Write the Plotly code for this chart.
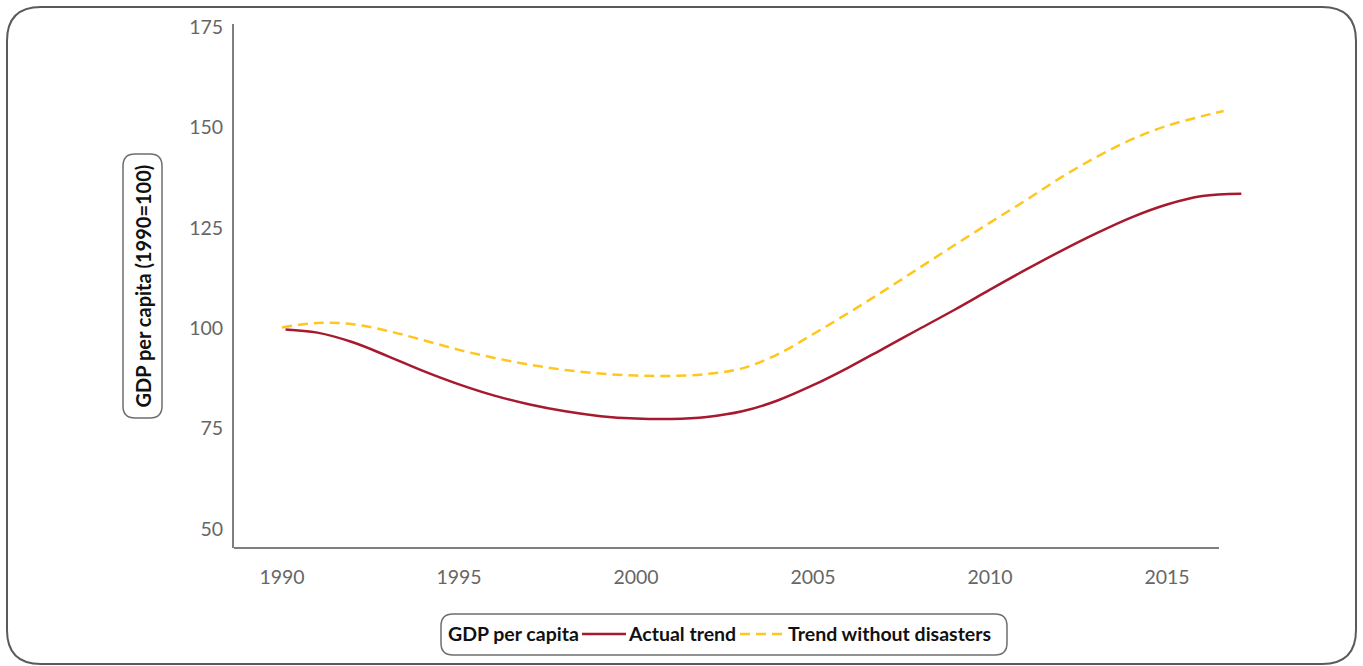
import plotly.graph_objects as go

# ---- data ----
actual_years = [1990.1, 1991, 1992, 1993, 1994, 1995, 1996, 1997, 1998, 1999, 2000,
                2001, 2002, 2003, 2004, 2005, 2006, 2007, 2008, 2009, 2010,
                2011, 2012, 2013, 2014, 2015, 2016, 2017.1]
actual_values = [99.7, 98.9, 96.5, 93.0, 89.3, 86.0, 83.2, 81.0, 79.3, 78.1, 77.5,
                 77.4, 77.9, 79.3, 82.0, 85.8, 90.2, 95.0, 99.8, 104.6, 109.6,
                 114.5, 119.2, 123.6, 127.6, 130.8, 132.9, 133.5]
nodis_years = [1990, 1991, 1992, 1993, 1994, 1995, 1996, 1997, 1998, 1999, 2000,
               2001, 2002, 2003, 2004, 2005, 2006, 2007, 2008, 2009, 2010,
               2011, 2012, 2013, 2014, 2015, 2016, 2016.6]
nodis_values = [100.2, 101.3, 101.0, 99.3, 97.0, 94.6, 92.6, 90.9, 89.6, 88.7, 88.2,
                88.1, 88.6, 90.0, 93.5, 98.5, 103.8, 109.3, 115.0, 120.7, 126.3,
                131.8, 137.5, 142.6, 147.0, 150.4, 152.8, 154.1]
x_ticks = [1990, 1995, 2000, 2005, 2010, 2015]
y_ticks = [50, 75, 100, 125, 150, 175]
y_title = "GDP per capita (1990=100)"
legend_title = "GDP per capita"
series_names = ["Actual trend", "Trend without disasters"]

RED = "#A6192E"
YELLOW = "#FFC61E"
DASH = "10px,6px"

W, H = 1363, 666
PL, PR, PT, PB = 234, 1273, 24, 548  # plot area in pixels


def px(x):
    return (x - PL) / (PR - PL)


def py(y):
    return (PB - y) / (PB - PT)


def rrect(x0, y0, x1, y1, r):
    pts = [
        ("M", [(x0 + r, y0)]), ("L", [(x1 - r, y0)]), ("Q", [(x1, y0), (x1, y0 + r)]),
        ("L", [(x1, y1 - r)]), ("Q", [(x1, y1), (x1 - r, y1)]),
        ("L", [(x0 + r, y1)]), ("Q", [(x0, y1), (x0, y1 - r)]),
        ("L", [(x0, y0 + r)]), ("Q", [(x0, y0), (x0 + r, y0)]),
    ]
    s = ""
    for cmd, ps in pts:
        s += cmd + " " + " ".join(f"{px(a):.5f},{py(b):.5f}" for a, b in ps) + " "
    return s + "Z"


fig = go.Figure()
fig.add_trace(go.Scatter(x=actual_years, y=actual_values, mode="lines", name=series_names[0],
                         showlegend=False,
                         line=dict(color=RED, width=2.5, shape="spline")))
fig.add_trace(go.Scatter(x=nodis_years, y=nodis_values, mode="lines", name=series_names[1],
                         showlegend=False,
                         line=dict(color=YELLOW, width=2.5, dash=DASH, shape="spline")))

x_per_px = 5 / 177.0
x0 = 1990 - (282 - PL) * x_per_px
x1 = x0 + (PR - PL) * x_per_px
x_axis_end = 1990 + (1219 - 282) * x_per_px
y_per_px = 25 / 100.4
y0 = 50 - (PB - 529) * y_per_px
y1 = y0 + (PB - PT) * y_per_px

LEG_Y = 634
shapes = [
    dict(type="path", xref="paper", yref="paper", path=rrect(7, 7, 1356, 664, 34),
         line=dict(color="#5a5a5a", width=2), fillcolor="rgba(0,0,0,0)", layer="below"),
    dict(type="path", xref="paper", yref="paper", path=rrect(123, 154, 162, 418, 12),
         line=dict(color="#6e6e6e", width=1.5), fillcolor="rgba(0,0,0,0)"),
    dict(type="path", xref="paper", yref="paper", path=rrect(441, 614, 1007, 655, 12),
         line=dict(color="#6e6e6e", width=1.5), fillcolor="rgba(0,0,0,0)"),
    dict(type="line", xref="x", yref="paper", x0=x0, x1=x_axis_end, y0=0, y1=0,
         line=dict(color="#7f7f7f", width=2)),
    # legend samples
    dict(type="line", xref="paper", yref="paper", x0=px(582), x1=px(626), y0=py(LEG_Y), y1=py(LEG_Y),
         line=dict(color=RED, width=2.5)),
    dict(type="line", xref="paper", yref="paper", x0=px(740), x1=px(785), y0=py(LEG_Y), y1=py(LEG_Y),
         line=dict(color=YELLOW, width=2.5, dash=DASH)),
]

LEG_FONT = dict(family="Lato", size=19.5, color="#111111", weight="bold")
annotations = [
    dict(text=y_title, xref="paper", yref="paper", x=px(142.5), y=py(286),
         xanchor="center", yanchor="middle", showarrow=False, textangle=-90,
         font=dict(family="Lato", size=20, color="#111111", weight="bold")),
    dict(text=legend_title, xref="paper", yref="paper", x=px(446), y=py(LEG_Y),
         xanchor="left", yanchor="middle", showarrow=False, font=LEG_FONT),
    dict(text=series_names[0], xref="paper", yref="paper", x=px(626), y=py(LEG_Y),
         xanchor="left", yanchor="middle", showarrow=False, font=LEG_FONT),
    dict(text=series_names[1], xref="paper", yref="paper", x=px(786), y=py(LEG_Y),
         xanchor="left", yanchor="middle", showarrow=False, font=LEG_FONT),
]

fig.update_layout(
    width=W, height=H,
    margin=dict(l=PL, r=W - PR, t=PT, b=H - PB),
    paper_bgcolor="white", plot_bgcolor="white",
    font=dict(family="Lato", color="#666666", size=19.5),
    shapes=shapes,
    showlegend=False,
    annotations=annotations,
)
fig.update_xaxes(range=[x0, x1], tickvals=x_ticks, showgrid=False, zeroline=False,
                 showline=False, ticks="", ticklabelstandoff=15,
                 tickfont=dict(family="Lato", size=19.5, color="#666666"))
fig.update_yaxes(range=[y0, y1], tickvals=y_ticks, showgrid=False, zeroline=False,
                 showline=True, linecolor="#7f7f7f", linewidth=2, ticks="",
                 ticklabelstandoff=5,
                 tickfont=dict(family="Lato", size=19.5, color="#666666"))

fig.write_html("out.html")
